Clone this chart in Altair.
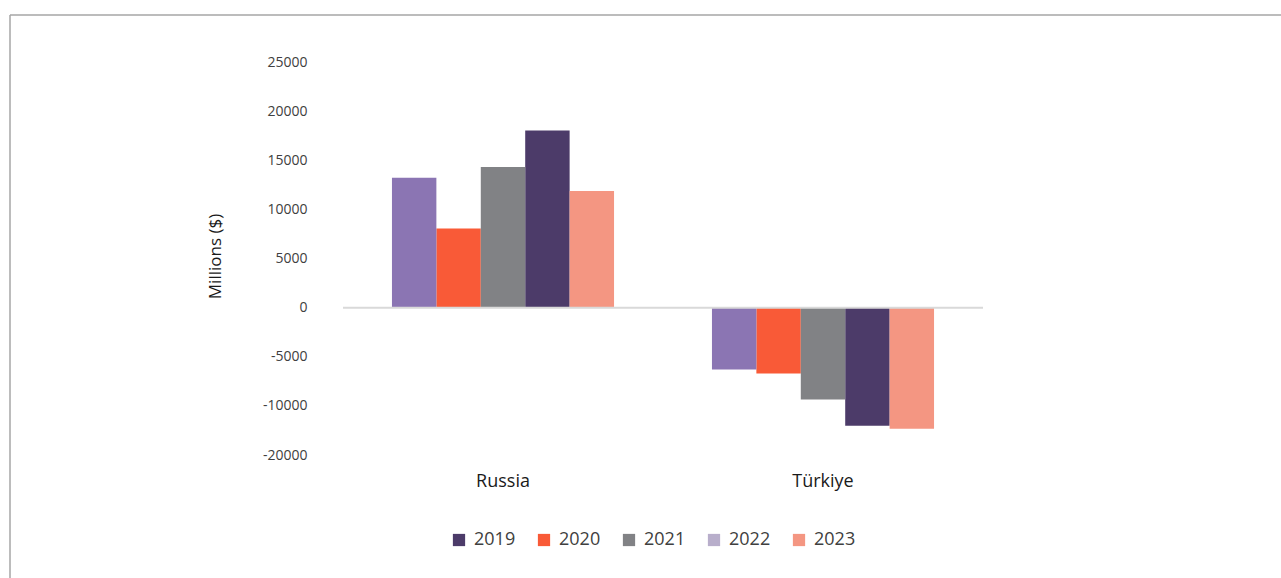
import altair as alt
import pandas as pd

countries = ["Russia", "Türkiye"]
years = ["2019", "2020", "2021", "2022", "2023"]
russia = [18040, 8050, 14310, 13230, 11870]
turkiye = [-12030, -6700, -9350, -6300, -12340]
bar_order = ["2022", "2020", "2021", "2019", "2023"]
bar_colors = ["#4C3B69", "#F95A37", "#818285", "#8B75B3", "#F49682"]
legend_colors = ["#4C3B69", "#F95A37", "#818285", "#B8AECB", "#F49682"]
y_ticks = [-15000, -10000, -5000, 0, 5000, 10000, 15000, 20000, 25000]

rows = []
for c, vals in zip(countries, [russia, turkiye]):
    for y, v in zip(years, vals):
        rows.append({"country": c, "year": y, "value": v})
df = pd.DataFrame(rows)

FONT = "Open Sans"

x_enc = alt.X("country:N", sort=countries,
              scale=alt.Scale(paddingInner=0.306, paddingOuter=0.153),
              axis=alt.Axis(title=None, labelAngle=0, domain=False, ticks=False,
                            labelPadding=17, labelFontSize=18, labelColor="#1a1a1a",
                            labelFont=FONT, labelFontWeight=500))
xo_enc = alt.XOffset("year:N", sort=bar_order,
                     scale=alt.Scale(paddingInner=0, paddingOuter=0))
y_enc = alt.Y("value:Q",
              scale=alt.Scale(domain=[-15000, 25000], nice=False, zero=False),
              axis=alt.Axis(title="Millions ($)", values=y_ticks, grid=False, domain=False,
                            ticks=False, labelPadding=36, labelFontSize=14,
                            labelColor="#404040", labelFont=FONT,
                            labelExpr="datum.value == -15000 ? '-20000' : '' + datum.value",
                            titleFont=FONT, titleFontSize=17, titleFontWeight="normal",
                            titleColor="#1a1a1a", titleX=-128, titleY=194,
                            titleAngle=-90, titleBaseline="middle", titleAlign="center"))

bars = alt.Chart(df).mark_bar().encode(
    x=x_enc, xOffset=xo_enc, y=y_enc,
    color=alt.Color("year:N", scale=alt.Scale(domain=years, range=bar_colors), legend=None),
)

legend_layer = alt.Chart(df).mark_bar(opacity=0).encode(
    x=x_enc, xOffset=xo_enc, y=y_enc,
    color=alt.Color("year:N", scale=alt.Scale(domain=years, range=legend_colors),
                    legend=alt.Legend(title=None, orient="none", direction="horizontal",
                                      legendX=107, legendY=469, symbolType="square",
                                      symbolSize=150, symbolOpacity=1, symbolStrokeWidth=0,
                                      labelFontSize=18, labelFont=FONT, labelColor="#404040",
                                      columnPadding=19, labelOffset=6)),
)

zero_df = pd.DataFrame({"zero": [0]})
zero_rule = alt.Chart(zero_df).mark_rule(color="#D9D9D9", strokeWidth=2).encode(
    y=alt.Y("zero:Q")
)

frame_top = alt.Chart(zero_df).mark_rule(color="#A6A6A6", strokeWidth=1.5).encode(
    x=alt.value(-333), x2=alt.value(960), y=alt.value(-47)
)
frame_left = alt.Chart(zero_df).mark_rule(color="#A6A6A6", strokeWidth=1.5).encode(
    x=alt.value(-333), y=alt.value(-47), y2=alt.value(530)
)

chart = alt.layer(bars, legend_layer, zero_rule, frame_top, frame_left).resolve_scale(
    color="independent"
).properties(
    width=640, height=393,
    background="white",
    autosize=alt.AutoSizeParams(type="none"),
    padding={"left": 343, "top": 62, "right": 298, "bottom": 123},
).configure_view(strokeWidth=0, stroke=None)

chart.save("out.html", embed_options={"renderer": "svg", "actions": False})
